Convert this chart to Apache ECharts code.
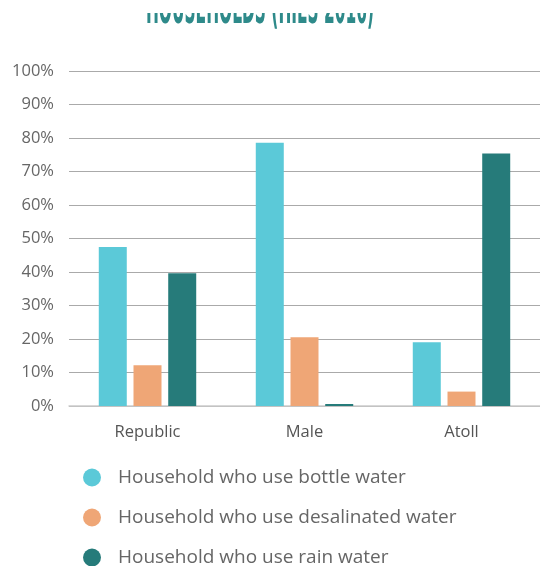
<!DOCTYPE html>
<html><head><meta charset="utf-8">
<script src="https://cdn.jsdelivr.net/npm/echarts@6/dist/echarts.min.js"></script>
<style>html,body{margin:0;padding:0;background:#fff}#c{width:540px;height:566px}</style>
</head><body><div id="c"></div>
<script>
const categories = ["Republic", "Male", "Atoll"];
const seriesNames = ["Household who use bottle water", "Household who use desalinated water", "Household who use rain water"];
const bottleWater = [47.5, 78.6, 19.0];
const desalinatedWater = [12.2, 20.5, 4.3];
const rainWater = [39.6, 0.6, 75.4];
const titleText = "HOUSEHOLDS (HIES 2016)";
const yTickSuffix = "%";
const colors = ["#5BC9D8", "#EFA676", "#267B7A"];
const values = [bottleWater, desalinatedWater, rainWater];

const chart = echarts.init(document.getElementById('c'));
chart.setOption({
  animation: false,
  graphic: [
    {type: 'text', x: 260, y: 34, scaleX: 0.78, scaleY: 2.0, z: 10,
     style: {text: titleText, fontFamily: 'DejaVu Sans Condensed', fontWeight: 'bold', fontSize: 22,
             fill: '#2E8A8A', textAlign: 'center', textVerticalAlign: 'bottom'}},
    {type: 'rect', x: 0, y: 0, z: 100, shape: {width: 540, height: 13}, style: {fill: '#fff'}}
  ],
  grid: {left: 69, right: 0, top: 71, bottom: 160},
  legend: {
    orient: 'vertical', left: 83, top: 468, height: 200, padding: 0,
    icon: 'circle', itemWidth: 18, itemHeight: 18, itemGap: 21,
    textStyle: {fontFamily: 'Open Sans', fontSize: 19, color: '#666', padding: [0, 0, 0, 12]},
    data: seriesNames
  },
  xAxis: {
    type: 'category', data: categories,
    axisLine: {lineStyle: {color: '#ccc', width: 1.5}},
    axisTick: {show: false},
    axisLabel: {fontFamily: 'Open Sans', fontSize: 16.5, color: '#555', margin: 18}
  },
  yAxis: {
    type: 'value', min: 0, max: 100, interval: 10,
    axisLine: {show: false}, axisTick: {show: false},
    splitLine: {lineStyle: {color: '#aaa', width: 1}},
    axisLabel: {fontFamily: 'Open Sans', fontSize: 16.5, color: '#666', margin: 15, formatter: '{value}' + yTickSuffix}
  },
  series: values.map((v, i) => ({
    name: seriesNames[i], type: 'bar', data: v,
    barWidth: 28, barGap: '24%',
    itemStyle: {color: colors[i]}
  }))
});
</script></body></html>
